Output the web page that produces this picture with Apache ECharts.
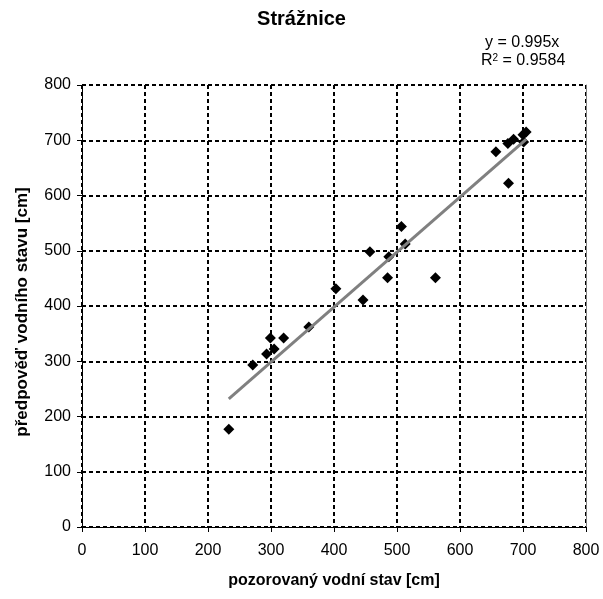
<!DOCTYPE html>
<html>
<head>
<meta charset="utf-8">
<script src="https://cdn.jsdelivr.net/npm/echarts@6/dist/echarts.min.js"></script>
<style>
  html, body { margin: 0; padding: 0; background: #fff; }
  #chart { width: 603px; height: 599px; }
</style>
</head>
<body>
<div id="chart"></div>
<script>
// pozorovaný (x) vs. předpověď (y)
const observed = [233, 271, 293, 299, 305, 320, 360, 403, 446, 457, 485, 487, 507, 513, 561, 657, 676, 677, 685, 700, 701, 705];
const predicted = [177, 293, 313, 342, 322, 342, 362, 431, 411, 498, 451, 489, 544, 512, 451, 679, 694, 622, 702, 710, 697, 715];
const slope = 0.995;
const r2 = '0.9584';
const axisTicks = [0, 100, 200, 300, 400, 500, 600, 700, 800];

const points = observed.map((x, i) => [x, predicted[i]]);
const xMin = Math.min(...observed);
const xMax = Math.max(...observed);
const trend = [[xMin, slope * xMin], [xMax, slope * xMax]];

const font = 'Liberation Sans, Arial, sans-serif';
const chart = echarts.init(document.getElementById('chart'));

const option = {
  backgroundColor: '#fff',
  animation: false,
  title: {
    text: 'Strážnice',
    left: 'center',
    top: 4,
    textStyle: { fontFamily: font, fontSize: 20, fontWeight: 'bold', color: '#000' }
  },
  graphic: [
    {
      type: 'text', left: 485, top: 35,
      style: { text: 'y = ' + slope + 'x', fontFamily: font, fontSize: 16, fill: '#000' }
    },
    {
      type: 'text', left: 481, top: 53,
      style: {
        text: '{r|R}{s|2}{r| = ' + r2 + '}',
        rich: {
          r: { fontFamily: font, fontSize: 16, fill: '#000' },
          s: { fontFamily: font, fontSize: 10, fill: '#000', verticalAlign: 'top', padding: [0, 0, 6, 0] }
        }
      }
    }
  ],
  grid: { left: 82, right: 17, top: 85, bottom: 72 },
  xAxis: {
    type: 'value',
    min: 0, max: 800, interval: 100,
    name: 'pozorovaný vodní stav [cm]',
    nameLocation: 'middle',
    nameGap: 46,
    nameTextStyle: { fontFamily: font, fontSize: 16, fontWeight: 'bold', color: '#000' },
    axisLine: { lineStyle: { color: '#000', width: 1 } },
    axisTick: { show: true, length: 5, lineStyle: { color: '#000' } },
    axisLabel: {
      fontFamily: font, fontSize: 16, color: '#000', margin: 16,
      formatter: v => axisTicks.includes(v) ? String(v) : ''
    },
    splitLine: { show: true, lineStyle: { color: '#000', width: 2, type: [4, 3] } }
  },
  yAxis: [
    {
      type: 'value',
      min: 0, max: 800, interval: 100,
      name: 'předpověď vodního stavu [cm]',
      nameLocation: 'middle',
      nameGap: 51,
      nameTextStyle: { fontFamily: font, fontSize: 17, fontWeight: 'bold', color: '#000', padding: [0, 12, 0, 0] },
      axisLine: { show: true, lineStyle: { color: '#000', width: 1 } },
      axisTick: { show: true, length: 5, lineStyle: { color: '#000' } },
      axisLabel: { fontFamily: font, fontSize: 16, color: '#000', margin: 11 },
      splitLine: { show: true, lineStyle: { color: '#000', width: 2, type: [4, 3] } }
    },
    {
      type: 'value',
      min: 0, max: 800, interval: 100,
      position: 'right',
      axisLine: { show: true, lineStyle: { color: '#808080', width: 1 } },
      axisTick: { show: false },
      axisLabel: { show: false },
      splitLine: { show: false }
    }
  ],
  series: [
    {
      type: 'scatter',
      data: points,
      symbol: 'diamond',
      symbolSize: 11,
      itemStyle: { color: '#000', opacity: 1 },
      z: 3
    },
    {
      type: 'line',
      data: trend,
      symbol: 'none',
      lineStyle: { color: '#808080', width: 3 },
      z: 4
    }
  ]
};

chart.setOption(option);
</script>
</body>
</html>
